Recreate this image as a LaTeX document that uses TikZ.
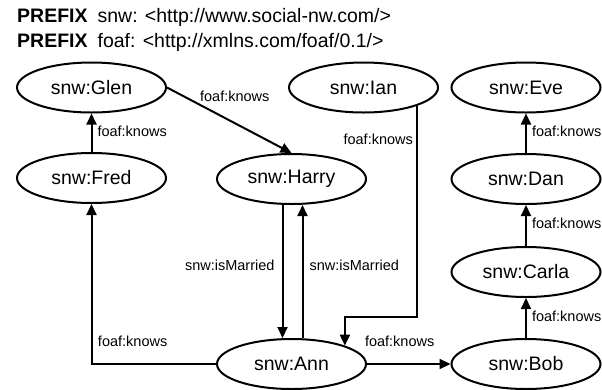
\documentclass[tikz,border=0pt]{standalone}
\usepackage{fontspec}
\setmainfont{Liberation Sans}
\usetikzlibrary{arrows.meta}
\usetikzlibrary{positioning}
\usetikzlibrary{shapes.geometric}

\begin{document}
\begin{tikzpicture}[x=1pt, y=-1pt,
  res/.style={ellipse, draw, line width=2pt, minimum width=149pt, minimum height=50pt, inner sep=0pt, font=\fontsize{19.5}{22}\selectfont},
  edge/.style={line width=2pt, -{Triangle[length=11pt,width=10pt]}},
  lbl/.style={font=\fontsize{14.5}{16}\selectfont, inner sep=1pt},
  hdr/.style={anchor=base west, inner sep=0pt, font=\fontsize{19.5}{22}\selectfont}]
\useasboundingbox (0,0) rectangle (602,389);

\node[hdr] (snwpfx) at (17,22) {\textbf{PREFIX}\hspace{10pt}snw: <http://www.social-nw.com/>};
\node[hdr] (foafpfx) at (17,47.5) {\textbf{PREFIX}\hspace{10pt}foaf: <http://xmlns.com/foaf/0.1/>};

\node[res] (Glen) at (91.5,87.5) {snw:Glen};
\node[res] (Ian) at (363.5,87.5) {snw:Ian};
\node[res] (Eve) at (526,87.5) {snw:Eve};
\node[res] (Fred) at (91.5,178) {snw:Fred};
\node[res] (Harry) at (291.5,179) {snw:Harry};
\node[res] (Dan) at (526,179) {snw:Dan};
\node[res] (Carla) at (526,272) {snw:Carla};
\node[res] (Ann) at (291.5,364) {snw:Ann};
\node[res] (Bob) at (526,364) {snw:Bob};

\foreach \a/\b in {Fred/Glen, Bob/Carla, Carla/Dan, Dan/Eve}
\draw[edge] (\a) -- (\b) node[lbl, pos=.55, right=4pt] {foaf:knows};

\draw[edge] (Glen.east) -- (Harry.north) node[lbl, pos=.25, above right] {foaf:knows};

\draw[edge] ([xshift=-9pt]Harry.south) -- ([xshift=-9pt]Ann.north) node[lbl, pos=.45, left=6pt] {snw:isMarried};
\draw[edge] ([xshift=11pt]Ann.north) -- ([xshift=11pt]Harry.south) node[lbl, pos=.55, right=5pt] {snw:isMarried};

\draw[edge] (Ian.south east) |- node[lbl, pos=.08, left=2pt] {foaf:knows} ([yshift=29pt]Ann.north east) -- (Ann.north east);

\draw[edge] (Ann.west) -| node[lbl, pos=.49, above right=15pt and 2pt] {foaf:knows} (Fred.south);
\draw[edge] (Ann.east) -- (Bob.west) node[lbl, pos=0, above right=15pt and -4pt] {foaf:knows};

\end{tikzpicture}
\end{document}
